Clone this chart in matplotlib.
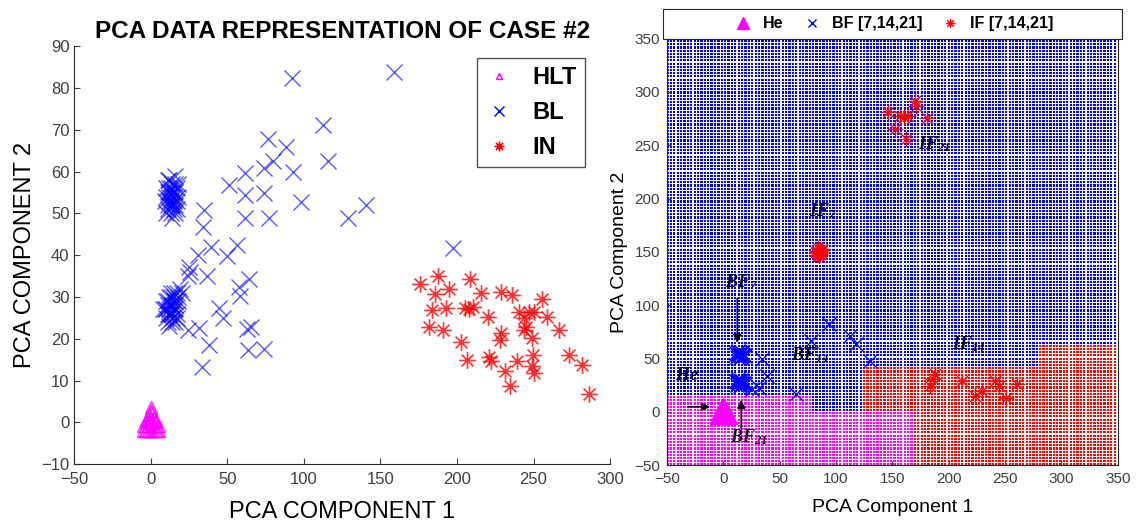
import numpy as np
import matplotlib
matplotlib.use("Agg")
import matplotlib.pyplot as plt
from matplotlib.path import Path
from matplotlib.patches import Rectangle
from matplotlib.colors import to_rgb

plt.rcParams['font.family'] = ['Liberation Sans', 'DejaVu Sans']
plt.rcParams['mathtext.fontset'] = 'custom'
plt.rcParams['mathtext.it'] = 'Liberation Serif:bold:italic'
plt.rcParams['mathtext.rm'] = 'Liberation Serif:bold:italic'
plt.rcParams['mathtext.bf'] = 'Liberation Serif:bold:italic'

# ---------------- Case #2 PCA scores (left panel) ----------------
hlt_x = [-5, -4, -3, -2, -1, 0, 1, 2, 3, 4, 5, -4, -2, 0, 2, 4, -3, -1, 1, 3,
         -2, 0, 2, -1, 1, 0, -1, 1, 0, 0, -5, 5, -3, 3]
hlt_y = [-2, -2, -2, -2, -2, -2, -2, -2, -2, -2, -2, -1, -1, -1, -1, -1, 0, 0, 0, 0,
         1, 1, 1, 2, 2, 3, 0.5, 0.5, 2.5, 3.7, -1, -1, 0.5, 0.5]

bl_x = [
    # dense group near (13, 54)
    10, 11, 12, 13, 14, 15, 16, 17, 10, 12, 14, 16, 18, 11, 13, 15, 17, 9, 12, 14,
    16, 13, 15, 11, 17, 14, 12, 16, 10, 18, 13, 15, 12, 14, 16, 11,
    # dense group near (13, 27)
    9, 10, 11, 12, 13, 14, 15, 16, 10, 12, 14, 16, 18, 11, 13, 15, 17, 8, 12, 14,
    16, 13, 15, 11, 17, 14, 12, 16, 10, 18, 19, 20, 17, 13, 15, 11,
    # scattered
    92.2, 158.9, 112.4, 115.8, 76.2, 88.4, 79.6, 73.6, 93.0, 61.5, 51.2, 61.5, 73.6,
    98.2, 61.5, 77.0, 128.7, 140.8, 34.9, 34.1, 39.3, 56.1, 197.2, 31.0, 50.0, 25.0,
    24.3, 36.8, 64.3, 57.8, 58.2, 44.6, 46.9, 24.3, 31.5, 62.6, 65.3, 38.1, 63.7,
    74.0, 33.7, 25.5]
bl_y = [
    54, 52, 56, 53, 55, 51, 57, 53, 50, 58, 52, 55, 54, 55, 50, 54, 51, 53, 53, 57,
    52, 56, 55, 51, 56, 49, 54, 59, 56, 57, 52, 53, 55, 54, 50, 58,
    27, 25, 29, 26, 28, 24, 30, 27, 29, 27, 26, 28, 29, 24, 26, 29, 25, 27, 30, 28,
    24, 31, 27, 28, 26, 25, 23, 29, 27, 30, 32, 31, 31, 30, 31, 26,
    82.5, 83.9, 71.1, 62.5, 67.9, 65.9, 62.5, 60.8, 59.8, 59.7, 56.8, 54.5, 54.8,
    52.8, 48.8, 48.8, 48.8, 52.0, 50.8, 46.8, 42.0, 42.4, 41.6, 40.1, 39.9, 37.2,
    35.1, 35.1, 34.3, 32.4, 30.3, 27.3, 25.0, 22.2, 22.6, 22.3, 22.9, 18.6, 17.4,
    17.5, 13.2, 36.0]

in_x = [176.0, 187.3, 185.8, 194.5, 183.6, 193.0, 181.4, 190.8, 208.2, 215.9,
        205.4, 210.4, 220.0, 202.6, 206.5, 220.7, 222.2, 228.7, 235.9, 228.9,
        227.9, 231.6, 234.8, 239.2, 249.0, 250.0, 249.6, 249.0, 240.3, 244.0,
        245.3, 246.8, 250.0, 255.5, 258.8, 266.4, 273.0, 281.7, 286.0, 243.6,
        208.0]
in_y = [33.2, 34.9, 30.8, 32.0, 26.9, 27.3, 22.8, 22.0, 34.4, 31.0,
        27.3, 27.7, 25.3, 19.1, 15.0, 15.6, 14.6, 31.2, 30.4, 21.3,
        19.7, 12.2, 8.7, 14.6, 13.4, 11.8, 16.2, 20.1, 26.5, 24.9,
        22.9, 26.5, 26.5, 29.4, 25.3, 22.1, 16.2, 13.8, 6.7, 22.1,
        27.0]

left_xticks = list(range(-50, 301, 50))
left_yticks = list(range(-10, 91, 10))

# ---------------- Decision regions (right panel) ----------------
he_x = [-3, 0, 3, -2, 2, 0, -1, 1, 0]
he_y = [-2, -2, -2, 1, 1, 4, 0, 0, 2]

bf_x = [13, 15, 17, 12, 16, 14, 18, 11, 15, 13, 17, 19, 12, 16, 14,
        13, 15, 17, 12, 16, 14, 18, 11, 15, 13, 17, 19, 12, 16, 14,
        34.5, 39.0, 31.5, 25.6, 65.0, 77.7, 94.0, 112.8, 118.0, 130.4]
bf_y = [53, 55, 52, 51, 56, 54, 53, 55, 50, 57, 55, 52, 54, 51, 53,
        27, 29, 26, 25, 30, 28, 27, 29, 24, 31, 28, 26, 28, 25, 27,
        49.2, 33.6, 22.0, 21.0, 16.4, 66.4, 82.7, 71.0, 63.3, 47.6]

if_x = [85, 83, 87, 84, 86, 82, 88, 85, 84, 86, 83, 87,
        170.0, 171.4, 146.2, 156.5, 164.0, 160.0, 180.4, 152.0, 162.5,
        187.8, 186.3, 183.3, 211.6, 223.5, 229.5, 241.4, 244.4, 250.4, 260.7]
if_y = [149, 151, 152, 147, 148, 150, 153, 146, 154, 151, 149, 150,
        291.8, 287.0, 280.8, 277.7, 277.7, 276.0, 275.5, 265.2, 255.8,
        35.7, 30.5, 24.2, 28.9, 14.8, 19.5, 28.9, 24.2, 13.2, 25.8]

grid_step = 3
he_zone = [(78, 15), (169, 0)]         # (x upper bound, y upper bound)
if_zone = [(124, 43), (280, 64)]       # (x lower bound, y upper bound)
right_ticks = list(range(-50, 351, 50))

# asterisk marker: eight spokes
_c = 0.7071
star = Path([(-1, 0), (1, 0), (0, -1), (0, 1), (-_c, -_c), (_c, _c), (-_c, _c), (_c, -_c)],
            [Path.MOVETO, Path.LINETO] * 4)

fig = plt.figure(figsize=(11.36, 5.25), dpi=100)
tick_col = '#404040'

# ---- left panel ----
ax1 = fig.add_axes([0.0655, 0.116, 0.4715, 0.796])
ax1.plot(hlt_x, hlt_y, linestyle='none', marker='^', ms=8, mfc='none', mec='#ff00ff',
         mew=1.0, alpha=0.8, label='HLT')
ax1.plot(bl_x, bl_y, linestyle='none', marker='x', ms=11, color='#0000ff', mew=1.0,
         alpha=0.65, label='BL')
ax1.plot(in_x, in_y, linestyle='none', marker=star, ms=12, mfc='none', mec='#ff0000',
         mew=1.2, alpha=0.8, label='IN')
ax1.set_xlim(-50, 300)
ax1.set_ylim(-10, 90)
ax1.set_xticks(left_xticks)
ax1.set_yticks(left_yticks)
for s in ('top', 'right'):
    ax1.spines[s].set_visible(False)
for s in ('left', 'bottom'):
    ax1.spines[s].set_color('#262626')
ax1.tick_params(direction='in', labelsize=12, colors=tick_col, length=4)
ax1.tick_params(axis='x', pad=6)
ax1.set_title('PCA DATA REPRESENTATION OF CASE #2', fontsize=17.5, fontweight='bold', pad=6)
ax1.set_xlabel('PCA COMPONENT 1', fontsize=17, labelpad=10)
ax1.set_ylabel('PCA COMPONENT 2', fontsize=17, labelpad=4)
leg1 = ax1.legend(loc='upper right', bbox_to_anchor=(0.975, 1.0), fancybox=False,
                  edgecolor='#262626', prop={'weight': 'bold', 'size': 17},
                  markerscale=0.6, handlelength=1.2, handletextpad=0.8, borderpad=0.35,
                  labelspacing=0.5)
for h in leg1.legend_handles:
    h.set_alpha(1)

# ---- right panel ----
ax2 = fig.add_axes([0.587, 0.114, 0.397, 0.8126])
gxs = np.arange(-49, 350, grid_step)
gys = np.arange(-49, 350, grid_step)
gx, gy = np.meshgrid(gxs, gys)
he_mask = np.zeros(gx.shape, bool)
for xb, yb in he_zone:
    he_mask |= (gx < xb) & (gy < yb)
if_mask = np.zeros(gx.shape, bool)
for xb, yb in if_zone:
    if_mask |= (gx >= xb) & (gy < yb)
if_mask &= ~he_mask
cls_rgb = np.empty(gx.shape + (3,))
cls_rgb[:] = to_rgb('#0000ff')
cls_rgb[he_mask] = to_rgb('#ff00ff')
cls_rgb[if_mask] = to_rgb('#ff0000')
# each grid cell becomes a 3x3 pixel block: a 2x2 dot with a white margin
blk = 3
dots = np.ones((gx.shape[0] * blk, gx.shape[1] * blk, 3))
for i in range(2):
    for j in range(2):
        dots[i::blk, j::blk] = cls_rgb
half = grid_step / 2
ax2.imshow(dots, origin='lower', interpolation='nearest', aspect='auto',
           extent=(gxs[0] - half, gxs[-1] + half, gys[0] - half, gys[-1] + half), zorder=0)

ax2.plot(he_x, he_y, linestyle='none', marker='^', ms=14, color='#ff00ff', label='He')
ax2.plot(bf_x, bf_y, linestyle='none', marker='x', ms=10, color='#0000ff', mew=1.0,
         label='BF [7,14,21]')
ax2.plot(if_x, if_y, linestyle='none', marker=star, ms=11, mfc='none', mec='#ff0000',
         mew=1.0, label='IF [7,14,21]')
ax2.set_xlim(-50, 350)
ax2.set_ylim(-50, 350)
ax2.set_xticks(right_ticks)
ax2.set_yticks(right_ticks)
ax2.tick_params(direction='in', labelsize=11, colors=tick_col, length=3, pad=5)
for s in ax2.spines.values():
    s.set_color('#262626')
ax2.set_xlabel('PCA Component 1', fontsize=14, labelpad=9)
ax2.set_ylabel('PCA Component 2', fontsize=14, labelpad=4)

ax2.add_patch(Rectangle((-0.009, 1.0), 1.018, 0.0704, transform=ax2.transAxes,
                        fill=False, edgecolor='#262626', lw=0.8, clip_on=False))
leg2 = ax2.legend(loc='center', bbox_to_anchor=(0.5, 1.035), ncol=3, frameon=False,
                  prop={'weight': 'bold', 'size': 11.5}, markerscale=0.6,
                  handlelength=1.5, columnspacing=1.0, handletextpad=0.5)

# cluster labels
lab_kw = dict(fontsize=13, color='black')
ax2.text(173, 251, r'$IF_{21}$', va='center', ha='left', **lab_kw)
ax2.text(76, 188, r'$IF_{7}$', va='center', ha='left', **lab_kw)
ax2.text(203, 63, r'$IF_{14}$', va='center', ha='left', **lab_kw)
ax2.text(2, 122, r'$BF_{7}$', va='center', ha='left', **lab_kw)
ax2.text(60, 53, r'$BF_{14}$', va='center', ha='left', **lab_kw)
ax2.text(6, -24, r'$BF_{21}$', va='center', ha='left', **lab_kw)
ax2.text(-43, 34, r'$He$', va='center', ha='left', **lab_kw)
arw = dict(arrowstyle='-|>', color='black', lw=1.2, mutation_scale=12)
ax2.annotate('', xy=(12.5, 62), xytext=(12.5, 109), arrowprops=arw)
ax2.annotate('', xy=(16, 14), xytext=(16, -18), arrowprops=arw)
ax2.annotate('', xy=(-9, 4.7), xytext=(-34, 4.7), arrowprops=arw)

fig.savefig('out.png', dpi=100)
